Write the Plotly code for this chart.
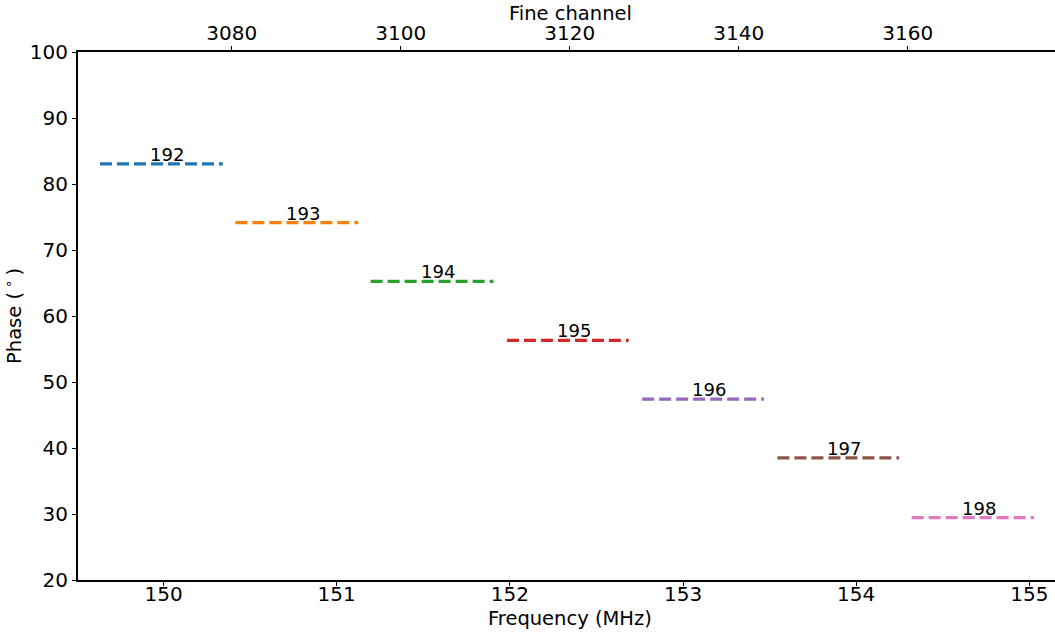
import plotly.graph_objects as go

# Data
coarse_channels = [192, 193, 194, 195, 196, 197, 198]
freq_start = [149.633, 150.415, 151.196, 151.983, 152.764, 153.545, 154.320]   # MHz
freq_end = [150.342, 151.124, 151.905, 152.686, 153.467, 154.248, 155.026]     # MHz
phase = [83.05, 74.15, 65.25, 56.3, 47.4, 38.5, 29.45]                          # degrees
colors = ['#1f77b4', '#ff7f0e', '#2ca02c', '#d62728', '#9467bd', '#8c564b', '#e377c2']

freq_range = [149.506, 155.148]
chan_range = [3061.8, 3177.43]
phase_range = [20, 100]
freq_ticks = [150, 151, 152, 153, 154, 155]
chan_ticks = [3080, 3100, 3120, 3140, 3160]
phase_ticks = [20, 30, 40, 50, 60, 70, 80, 90, 100]

FONT = "DejaVu Sans"
fig = go.Figure()
for ch, x0, x1, ph, c in zip(coarse_channels, freq_start, freq_end, phase, colors):
    fig.add_trace(go.Scatter(x=[x0, x1], y=[ph, ph], mode="lines",
                             line=dict(color=c, width=3.2, dash="12px,5px"),
                             showlegend=False, hoverinfo="skip"))
    fig.add_annotation(x=(x0 + x1) / 2, y=ph, text=str(ch), showarrow=False,
                       xanchor="center", yanchor="bottom", xshift=6, yshift=-3,
                       font=dict(family=FONT, size=18, color="black"))

# invisible trace to anchor the top axis
fig.add_trace(go.Scatter(x=chan_range, y=[None, None], xaxis="x2", mode="lines",
                         showlegend=False, hoverinfo="skip"))

axis_common = dict(showgrid=False, zeroline=False, showline=True, linecolor="black",
                   linewidth=2, ticks="outside", ticklen=4, tickwidth=1, tickcolor="black",
                   tickfont=dict(family=FONT, size=20, color="black"))

fig.update_layout(
    width=1055, height=635,
    margin=dict(l=78, r=0, t=52, b=55),
    paper_bgcolor="white", plot_bgcolor="white",
    xaxis=dict(range=freq_range, tickvals=freq_ticks, ticktext=[str(t) for t in freq_ticks],
               ticklabelstandoff=-9, **axis_common),
    xaxis2=dict(range=chan_range, tickvals=chan_ticks, ticktext=[str(t) for t in chan_ticks],
                overlaying="x", side="top", anchor="y", ticklabelstandoff=-2,
                **axis_common),
    yaxis=dict(range=phase_range, tickvals=phase_ticks, ticktext=[str(t) for t in phase_ticks],
               title=dict(text="Phase (\u2009<sup>∘</sup>\u2009)", font=dict(family=FONT, size=19.5, color="black"), standoff=6),
               **axis_common),
)
fig.add_annotation(text="Frequency (MHz)", xref="paper", yref="paper", x=0.5036, y=-0.072,
                   xanchor="center", yanchor="middle", showarrow=False,
                   font=dict(family=FONT, size=19.5, color="black"))
fig.add_annotation(text="Fine channel", xref="paper", yref="paper", x=0.5036, y=1.072,
                   xanchor="center", yanchor="middle", showarrow=False,
                   font=dict(family=FONT, size=19.5, color="black"))

fig.write_html("out.html")
